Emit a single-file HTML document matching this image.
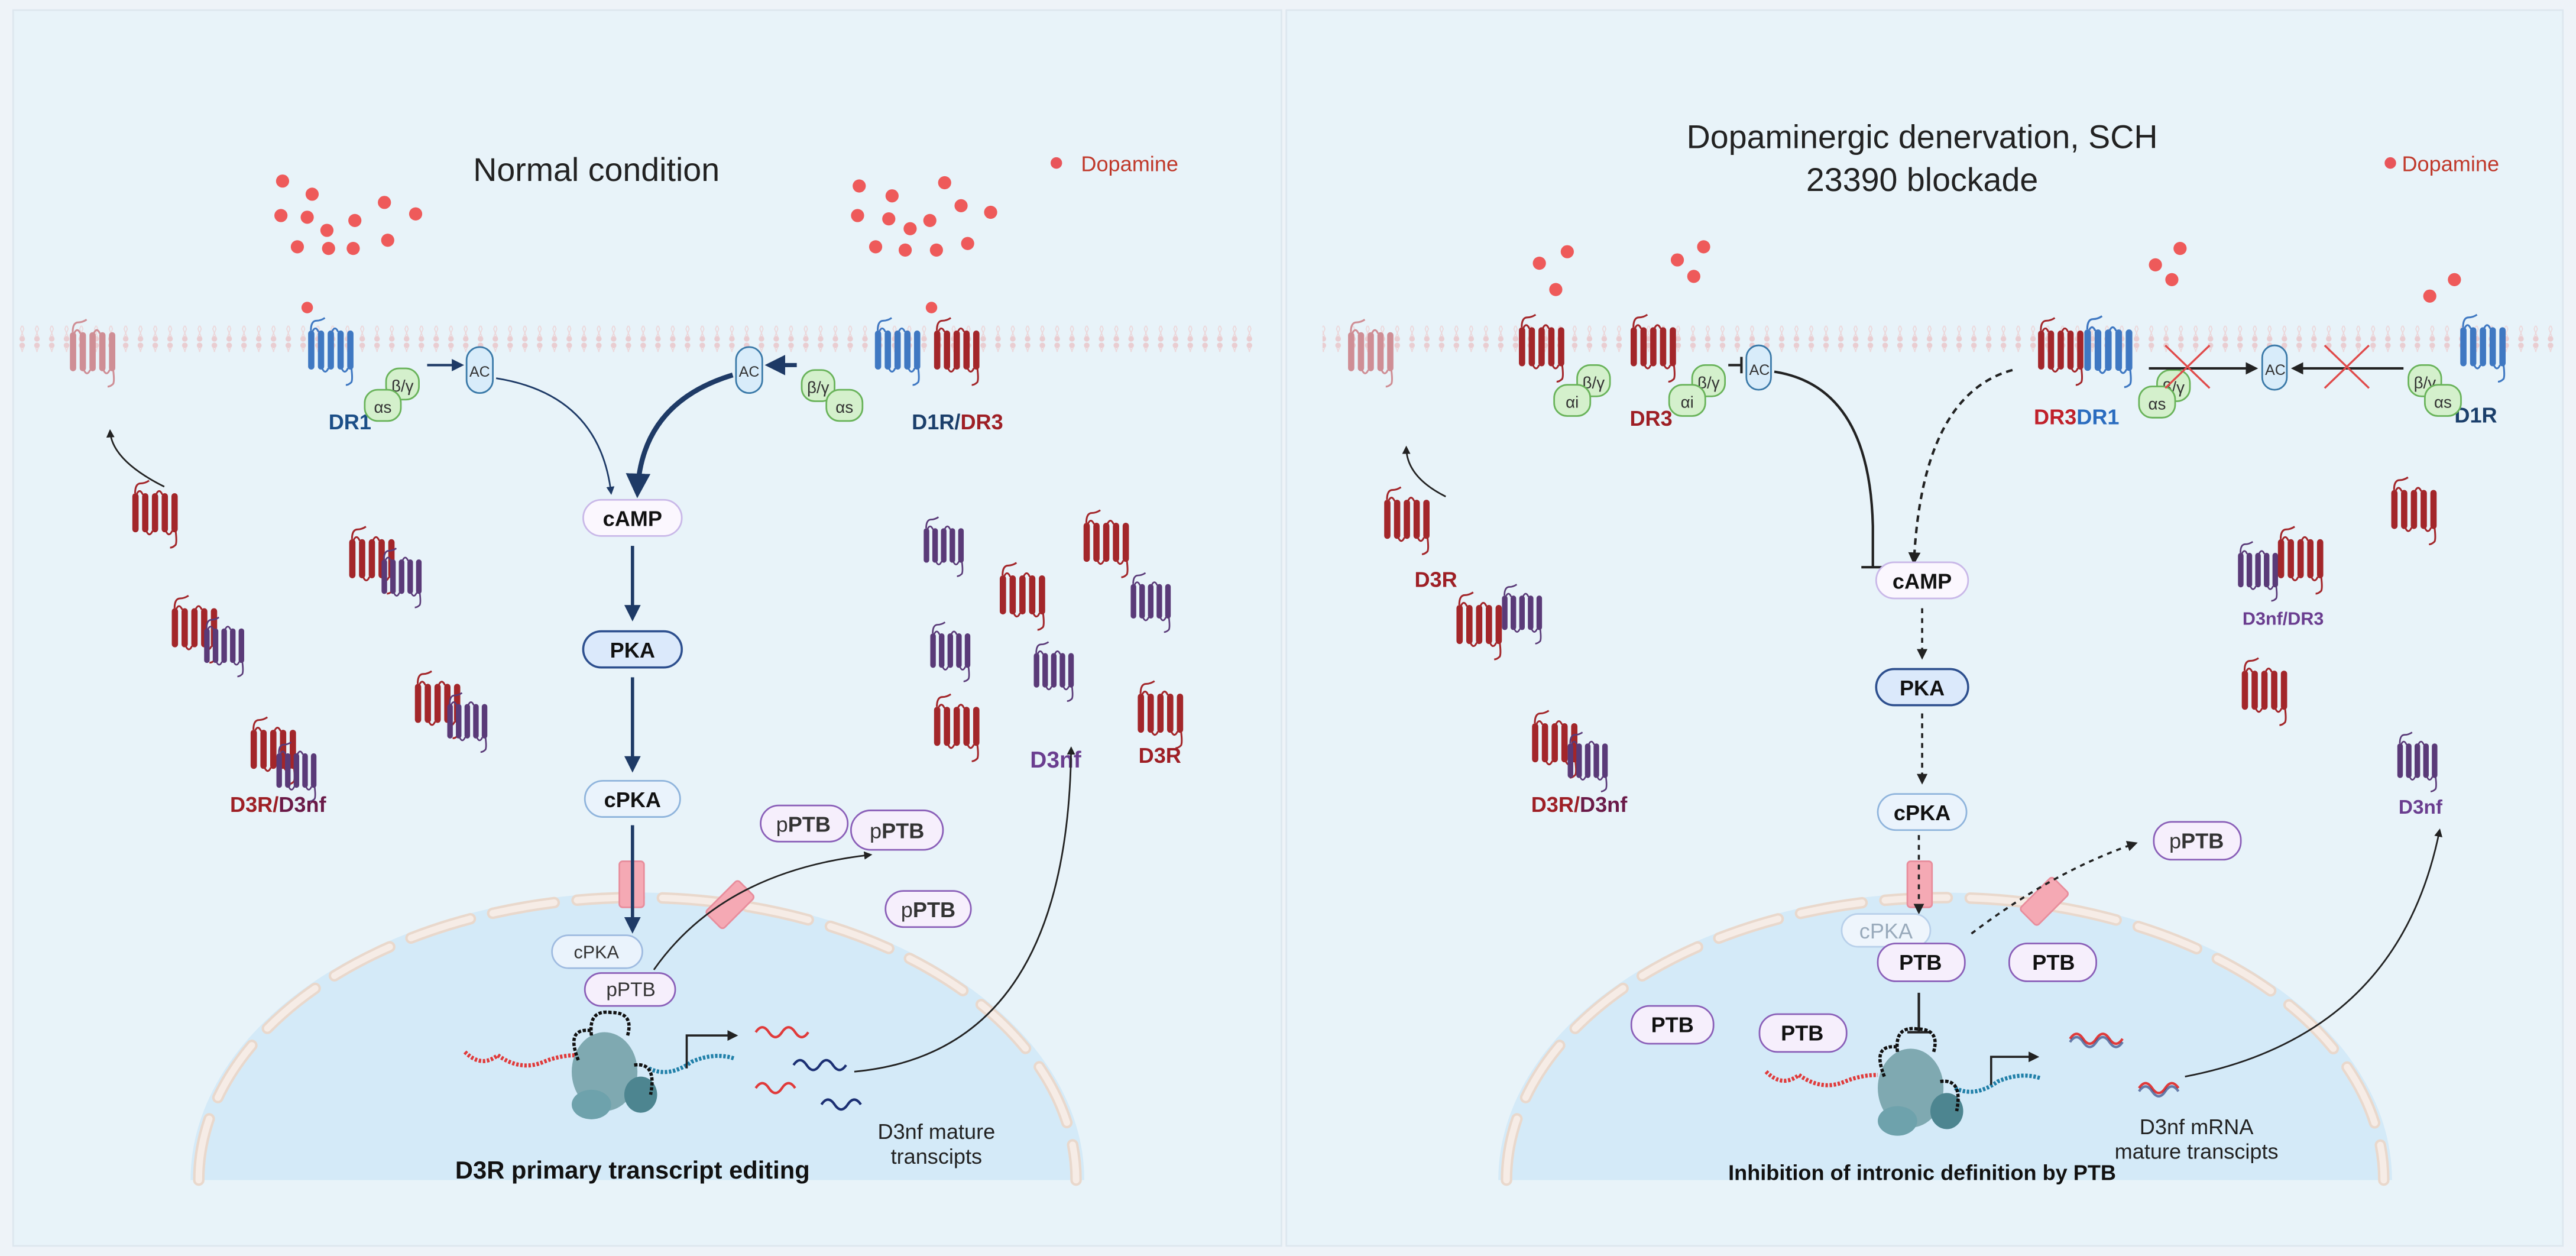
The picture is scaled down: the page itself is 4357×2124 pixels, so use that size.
<!DOCTYPE html>
<html><head><meta charset="utf-8"><style>
html,body{margin:0;padding:0;background:#eef3f8}
svg{display:block}
text{font-family:"Liberation Sans",Arial,sans-serif}
</style></head><body>
<svg width="4357" height="2124" viewBox="0 0 1568 764" xmlns="http://www.w3.org/2000/svg">
<defs>
<symbol id="r" viewBox="0 0 40 50" overflow="visible">
<path d="M5 12 q0-7 4-7 q3 0 6-2" fill="none" stroke="currentColor" stroke-width="1.3"/>
<g fill="currentColor">
<rect x="3" y="12" width="4.5" height="28" rx="2.2"/><rect x="10" y="12" width="4.5" height="28" rx="2.2"/>
<rect x="17" y="12" width="4.5" height="28" rx="2.2"/><rect x="24" y="12" width="4.5" height="28" rx="2.2"/>
<rect x="31" y="12" width="4.5" height="28" rx="2.2"/></g>
<path d="M6 13 q2.2-5 4.5 0 M20 13 q2.2-5 4.5 0 M13 39 q2.2 5 4.5 0 M27 39 q2.2 5 4.5 0 M34 39 q1 8 0 10 q-2 2 -4 2" fill="none" stroke="currentColor" stroke-width="1.3"/>
</symbol>
<marker id="a" viewBox="0 0 10 10" refX="8" refY="5" markerWidth="5" markerHeight="5" orient="auto"><path d="M0 0L10 5L0 10z" fill="#1e3a66"/></marker>
<marker id="k" viewBox="0 0 10 10" refX="8" refY="5" markerWidth="5" markerHeight="5" orient="auto"><path d="M0 0L10 5L0 10z" fill="#222"/></marker>
<pattern id="mem" width="9" height="16" patternUnits="userSpaceOnUse">
<circle cx="4.5" cy="2" r="1.7" fill="#e9cdd1"/><circle cx="4.5" cy="14" r="1.7" fill="#e9cdd1"/>
<path d="M3.5 3 L5.5 8 L3.5 13 M5.5 3 L3.5 8 L5.5 13" stroke="#ecd6d9" stroke-width="0.6" fill="none"/>
</pattern>
</defs>
<rect width="1568" height="764" fill="#eef3f8"/>
<rect x="8" y="6" width="772" height="752" fill="#e8f3f9" stroke="#dde7ef"/>
<rect x="783" y="6" width="777" height="752" fill="#e8f3f9" stroke="#dde7ef"/>

<rect x="10" y="198" width="757" height="16" fill="url(#mem)"/>
<rect x="805" y="198" width="750" height="16" fill="url(#mem)"/>

<path d="M116 718 A272 175 0 0 1 660 718 Z" fill="#d4eaf8"/>
<path d="M121 718 A267 172 0 0 1 655 718" fill="none" stroke="#e9d8cc" stroke-width="7" stroke-dasharray="38 14" stroke-linecap="round"/>
<path d="M121 718 A267 172 0 0 1 655 718" fill="none" stroke="#f6ece6" stroke-width="4" stroke-dasharray="38 14" stroke-linecap="round"/>
<path d="M912 718 A272 175 0 0 1 1456 718 Z" fill="#d4eaf8"/>
<path d="M917 718 A267 172 0 0 1 1451 718" fill="none" stroke="#e9d8cc" stroke-width="7" stroke-dasharray="38 14" stroke-linecap="round"/>
<path d="M917 718 A267 172 0 0 1 1451 718" fill="none" stroke="#f6ece6" stroke-width="4" stroke-dasharray="38 14" stroke-linecap="round"/>

<text x="363" y="110" font-size="20" text-anchor="middle" fill="#222">Normal condition</text>
<text x="1170" y="90" font-size="20" text-anchor="middle" fill="#222">Dopaminergic denervation, SCH</text>
<text x="1170" y="116" font-size="20" text-anchor="middle" fill="#222">23390 blockade</text>
<circle cx="643" cy="99" r="3.5" fill="#e8555a"/><text x="658" y="104" font-size="13" fill="#c0392b">Dopamine</text>
<circle cx="1455" cy="99" r="3.5" fill="#e8555a"/><text x="1462" y="104" font-size="13" fill="#c0392b">Dopamine</text>

<g fill="#ee5a5a">
<circle cx="172" cy="110" r="4"/><circle cx="190" cy="118" r="4"/><circle cx="171" cy="131" r="4"/><circle cx="187" cy="132" r="4"/><circle cx="199" cy="140" r="4"/><circle cx="216" cy="134" r="4"/><circle cx="234" cy="123" r="4"/><circle cx="253" cy="130" r="4"/><circle cx="236" cy="146" r="4"/><circle cx="200" cy="151" r="4"/><circle cx="215" cy="151" r="4"/><circle cx="181" cy="150" r="4"/>
<circle cx="523" cy="113" r="4"/><circle cx="543" cy="119" r="4"/><circle cx="522" cy="131" r="4"/><circle cx="541" cy="133" r="4"/><circle cx="554" cy="139" r="4"/><circle cx="566" cy="134" r="4"/><circle cx="585" cy="125" r="4"/><circle cx="603" cy="129" r="4"/><circle cx="589" cy="148" r="4"/><circle cx="551" cy="152" r="4"/><circle cx="570" cy="152" r="4"/><circle cx="533" cy="150" r="4"/><circle cx="575" cy="111" r="4"/>
<circle cx="187" cy="187" r="3.5"/><circle cx="567" cy="187" r="3.5"/>
<circle cx="937" cy="160" r="4"/><circle cx="954" cy="153" r="4"/><circle cx="947" cy="176" r="4"/>
<circle cx="1021" cy="158" r="4"/><circle cx="1037" cy="150" r="4"/><circle cx="1031" cy="168" r="4"/>
<circle cx="1312" cy="161" r="4"/><circle cx="1327" cy="151" r="4"/><circle cx="1322" cy="170" r="4"/>
<circle cx="1479" cy="180" r="4"/><circle cx="1494" cy="170" r="4"/>
</g>

<use href="#r" x="40" y="190" width="34" height="46" color="#cf8e95"/>
<use href="#r" x="185" y="188" width="34" height="48" color="#3f78c2"/>
<use href="#r" x="530" y="188" width="34" height="48" color="#3f78c2"/>
<use href="#r" x="566" y="188" width="34" height="48" color="#a3262a"/>
<text x="200" y="261" font-size="13" font-weight="bold" fill="#1b4e87">DR1</text>
<text x="555" y="261" font-size="13" font-weight="bold"><tspan fill="#1b3f6b">D1R/</tspan><tspan fill="#9e1f25">DR3</tspan></text>
<g font-size="10" text-anchor="middle" fill="#333">
<rect x="235" y="224" width="20" height="19" rx="8" fill="#d4f0cc" stroke="#69b35a"/><text x="245" y="238">β/γ</text>
<rect x="222" y="237" width="22" height="19" rx="8" fill="#d4f0cc" stroke="#69b35a"/><text x="233" y="251">αs</text>
<rect x="284" y="211" width="16" height="28" rx="8" fill="#d8ecfa" stroke="#3a79a8"/><text x="292" y="229" font-size="9">AC</text>
<rect x="448" y="211" width="16" height="28" rx="8" fill="#d8ecfa" stroke="#3a79a8"/><text x="456" y="229" font-size="9">AC</text>
<rect x="488" y="225" width="20" height="19" rx="8" fill="#d4f0cc" stroke="#69b35a"/><text x="498" y="239">β/γ</text>
<rect x="503" y="237" width="22" height="19" rx="8" fill="#d4f0cc" stroke="#69b35a"/><text x="514" y="251">αs</text>
</g>
<path d="M260 222 L281 222" stroke="#1e3a66" stroke-width="1.5" marker-end="url(#a)"/>
<path d="M485 222 L468 222" stroke="#1e3a66" stroke-width="2.5" marker-end="url(#a)"/>
<path d="M302 230 Q365 240 372 300" stroke="#1e3a66" stroke-width="1" fill="none" marker-end="url(#a)"/>
<path d="M446 228 Q390 245 388 300" stroke="#1e3a66" stroke-width="3" fill="none" marker-end="url(#a)"/>
<path d="M100 296 Q68 280 67 262" stroke="#222" stroke-width="1" fill="none" marker-end="url(#k)"/>

<g>
<use href="#r" x="78" y="288" width="34" height="46" color="#a3262a"/>
<use href="#r" x="210" y="316" width="34" height="46" color="#a3262a"/><use href="#r" x="230" y="328" width="30" height="44" color="#5a3a78"/>
<use href="#r" x="102" y="358" width="34" height="46" color="#a3262a"/><use href="#r" x="122" y="370" width="30" height="44" color="#5a3a78"/>
<use href="#r" x="250" y="404" width="34" height="46" color="#a3262a"/><use href="#r" x="270" y="416" width="30" height="44" color="#5a3a78"/>
<use href="#r" x="150" y="432" width="34" height="46" color="#a3262a"/><use href="#r" x="166" y="446" width="30" height="44" color="#5a3a78"/>
</g>
<text x="140" y="494" font-size="13" font-weight="bold"><tspan fill="#9e1f25">D3R/</tspan><tspan fill="#6a1a48">D3nf</tspan></text>
<g>
<use href="#r" x="560" y="308" width="30" height="46" color="#5a3a78"/>
<use href="#r" x="657" y="306" width="34" height="46" color="#a3262a"/>
<use href="#r" x="606" y="338" width="34" height="46" color="#a3262a"/>
<use href="#r" x="686" y="342" width="30" height="46" color="#5a3a78"/>
<use href="#r" x="564" y="372" width="30" height="46" color="#5a3a78"/>
<use href="#r" x="627" y="384" width="30" height="46" color="#5a3a78"/>
<use href="#r" x="566" y="418" width="34" height="46" color="#a3262a"/>
<use href="#r" x="690" y="410" width="34" height="46" color="#a3262a"/>
</g>
<text x="627" y="467" font-size="14" font-weight="bold" fill="#6a3d8f">D3nf</text>
<text x="693" y="464" font-size="13" font-weight="bold" fill="#9e1f25">D3R</text>

<g font-weight="bold" text-anchor="middle" font-size="13" fill="#111">
<rect x="355" y="304" width="60" height="22" rx="11" fill="#fbf7fe" stroke="#c9b8e8"/><text x="385" y="320">cAMP</text>
<rect x="355" y="384" width="60" height="22" rx="11" fill="#dbe9fb" stroke="#2d4f8e" stroke-width="1.3"/><text x="385" y="400">PKA</text>
<rect x="356" y="475" width="58" height="22" rx="11" fill="#eaf3fc" stroke="#8fb4dc"/><text x="385" y="491">cPKA</text>
</g>
<path d="M385 332 V376" stroke="#1e3a66" stroke-width="2" marker-end="url(#a)"/>
<path d="M385 412 V468" stroke="#1e3a66" stroke-width="2" marker-end="url(#a)"/>
<rect x="377" y="524" width="15" height="28" rx="2" fill="#f5a9b4" stroke="#e88d9c"/>
<rect x="437" y="536" width="15" height="28" rx="2" fill="#f5a9b4" stroke="#e88d9c" transform="rotate(45 444 550)"/>
<path d="M385 502 V566" stroke="#1e3a66" stroke-width="2" marker-end="url(#a)"/>
<g text-anchor="middle" font-size="11" fill="#333">
<rect x="336" y="569" width="55" height="20" rx="10" fill="#eaf3fc" stroke="#9fbbe0"/><text x="363" y="583">cPKA</text>
<rect x="356" y="592" width="55" height="20" rx="10" fill="#f6effc" stroke="#8a5fb8"/><text x="384" y="606" font-size="12">pPTB</text>
</g>
<path d="M398 590 Q440 530 530 520" stroke="#222" stroke-width="1" fill="none" marker-end="url(#k)"/>
<g text-anchor="middle" font-size="13" fill="#333">
<rect x="463" y="490" width="53" height="22" rx="11" fill="#f6effc" stroke="#8a5fb8"/><text x="489" y="506">p<tspan font-weight="bold">PTB</tspan></text>
<rect x="518" y="493" width="56" height="24" rx="12" fill="#f6effc" stroke="#8a5fb8"/><text x="546" y="510">p<tspan font-weight="bold">PTB</tspan></text>
<rect x="539" y="542" width="52" height="22" rx="11" fill="#f6effc" stroke="#8a5fb8"/><text x="565" y="558">p<tspan font-weight="bold">PTB</tspan></text>
</g>
<g>
<path d="M283 640 q10 10 20 2 q14 10 28 4 q10 -4 20 -4" stroke="#e03a3a" stroke-width="2.5" fill="none" stroke-dasharray="1.5 1"/>
<path d="M395 650 q12 6 26 -4 q14 -6 26 -2" stroke="#1f7fa8" stroke-width="2.5" fill="none" stroke-dasharray="1.5 1"/>
<ellipse cx="368" cy="652" rx="20" ry="24" fill="#7fa9b1"/>
<ellipse cx="360" cy="672" rx="12" ry="9" fill="#6ea2ac"/><ellipse cx="390" cy="666" rx="10" ry="11" fill="#4d8590"/>
<path d="M352 645 q-8 -20 8 -18 M360 630 q-2 -16 12 -14 q14 0 10 14 M386 648 q14 -2 10 18" stroke="#111" stroke-width="2" fill="none" stroke-dasharray="2 1"/>
</g>
<path d="M418 650 V630 H448" stroke="#222" stroke-width="1.3" fill="none" marker-end="url(#k)"/>
<g stroke-width="1.5" fill="none">
<path d="M460 628 q4 -6 8 0 q4 6 8 0 q4 -6 8 0 q4 6 8 0" stroke="#e03a3a"/>
<path d="M483 648 q4 -6 8 0 q4 6 8 0 q4 -6 8 0 q4 6 8 0" stroke="#1b2f73"/>
<path d="M460 662 q4 -6 8 0 q4 6 8 0 q4 -6 8 0" stroke="#e03a3a"/>
<path d="M500 672 q4 -6 8 0 q4 6 8 0 q4 -6 8 0" stroke="#1b2f73"/>
</g>
<path d="M520 652 Q650 640 652 455" stroke="#222" stroke-width="1" fill="none" marker-end="url(#k)"/>
<text x="385" y="717" font-size="15" font-weight="bold" text-anchor="middle" fill="#111">D3R primary transcript editing</text>
<text x="570" y="693" font-size="13" text-anchor="middle" fill="#222">D3nf mature</text>
<text x="570" y="708" font-size="13" text-anchor="middle" fill="#222">transcipts</text>

<use href="#r" x="818" y="190" width="34" height="46" color="#cf8e95"/>
<use href="#r" x="922" y="186" width="34" height="48" color="#a3262a"/>
<use href="#r" x="990" y="186" width="34" height="48" color="#a3262a"/>
<use href="#r" x="1238" y="188" width="34" height="48" color="#a3262a"/>
<use href="#r" x="1266" y="188" width="36" height="48" color="#3f78c2"/>
<use href="#r" x="1495" y="186" width="34" height="48" color="#3f78c2"/>
<text x="992" y="259" font-size="13" font-weight="bold" fill="#9e1f25">DR3</text>
<text x="1238" y="258" font-size="13" font-weight="bold"><tspan fill="#c0202a">DR3</tspan><tspan fill="#2a6cbf">DR1</tspan></text>
<text x="1494" y="257" font-size="13" font-weight="bold" fill="#1b3f6b">D1R</text>
<g font-size="10" text-anchor="middle" fill="#333">
<rect x="960" y="222" width="20" height="19" rx="8" fill="#d4f0cc" stroke="#69b35a"/><text x="970" y="236">β/γ</text>
<rect x="946" y="234" width="22" height="19" rx="8" fill="#d4f0cc" stroke="#69b35a"/><text x="957" y="248">αi</text>
<rect x="1030" y="222" width="20" height="19" rx="8" fill="#d4f0cc" stroke="#69b35a"/><text x="1040" y="236">β/γ</text>
<rect x="1016" y="234" width="22" height="19" rx="8" fill="#d4f0cc" stroke="#69b35a"/><text x="1027" y="248">αi</text>
<rect x="1063" y="210" width="15" height="27" rx="7.5" fill="#d8ecfa" stroke="#3a79a8"/><text x="1071" y="228" font-size="9">AC</text>
<rect x="1313" y="225" width="20" height="19" rx="8" fill="#d4f0cc" stroke="#69b35a"/><text x="1323" y="239">β/γ</text>
<rect x="1302" y="235" width="22" height="19" rx="8" fill="#d4f0cc" stroke="#69b35a"/><text x="1313" y="249">αs</text>
<rect x="1377" y="210" width="15" height="27" rx="7.5" fill="#d8ecfa" stroke="#3a79a8"/><text x="1385" y="228" font-size="9">AC</text>
<rect x="1466" y="222" width="20" height="19" rx="8" fill="#d4f0cc" stroke="#69b35a"/><text x="1476" y="236">β/γ</text>
<rect x="1476" y="234" width="22" height="19" rx="8" fill="#d4f0cc" stroke="#69b35a"/><text x="1487" y="248">αs</text>
</g>
<path d="M1052 222 H1060 M1060 217 V227" stroke="#222" stroke-width="1.5"/>
<path d="M1080 226 Q1138 235 1140 320 V345 M1133 345 H1147" stroke="#222" stroke-width="1.5" fill="none"/>
<path d="M1225 225 Q1170 240 1165 342" stroke="#222" stroke-width="1.5" fill="none" stroke-dasharray="4 3" marker-end="url(#k)"/>
<path d="M1308 224 H1373" stroke="#222" stroke-width="1.5" marker-end="url(#k)"/>
<path d="M1463 224 H1396" stroke="#222" stroke-width="1.5" marker-end="url(#k)"/>
<path d="M1318 210 L1345 236 M1345 210 L1318 236 M1415 210 L1442 236 M1442 210 L1415 236" stroke="#e04a4a" stroke-width="1.2"/>
<path d="M880 302 Q856 290 856 272" stroke="#222" stroke-width="1" fill="none" marker-end="url(#k)"/>

<use href="#r" x="840" y="292" width="34" height="46" color="#a3262a"/>
<text x="861" y="357" font-size="13" font-weight="bold" fill="#9e1f25">D3R</text>
<use href="#r" x="884" y="356" width="34" height="46" color="#a3262a"/><use href="#r" x="912" y="350" width="30" height="44" color="#5a3a78"/>
<use href="#r" x="930" y="428" width="34" height="46" color="#a3262a"/><use href="#r" x="952" y="440" width="30" height="44" color="#5a3a78"/>
<text x="932" y="494" font-size="13" font-weight="bold"><tspan fill="#9e1f25">D3R/</tspan><tspan fill="#6a1a48">D3nf</tspan></text>
<use href="#r" x="1453" y="286" width="34" height="46" color="#a3262a"/>
<use href="#r" x="1360" y="323" width="30" height="46" color="#5a3a78"/><use href="#r" x="1384" y="316" width="34" height="46" color="#a3262a"/>
<text x="1365" y="380" font-size="11" font-weight="bold" fill="#6a3d8f">D3nf/DR3</text>
<use href="#r" x="1362" y="396" width="34" height="46" color="#a3262a"/>
<use href="#r" x="1457" y="439" width="30" height="46" color="#5a3a78"/>
<text x="1460" y="495" font-size="12" font-weight="bold" fill="#6a3d8f">D3nf</text>

<g font-weight="bold" text-anchor="middle" font-size="13" fill="#111">
<rect x="1142" y="342" width="56" height="22" rx="11" fill="#fbf7fe" stroke="#c9b8e8"/><text x="1170" y="358">cAMP</text>
<rect x="1142" y="407" width="56" height="22" rx="11" fill="#dbe9fb" stroke="#2d4f8e" stroke-width="1.3"/><text x="1170" y="423">PKA</text>
<rect x="1143" y="483" width="54" height="22" rx="11" fill="#eaf3fc" stroke="#8fb4dc"/><text x="1170" y="499">cPKA</text>
</g>
<path d="M1170 370 V400" stroke="#222" stroke-width="1.3" stroke-dasharray="3 3" marker-end="url(#k)"/>
<path d="M1170 434 V476" stroke="#222" stroke-width="1.3" stroke-dasharray="3 3" marker-end="url(#k)"/>
<rect x="1161" y="524" width="15" height="28" rx="2" fill="#f5a9b4" stroke="#e88d9c"/>
<rect x="1237" y="534" width="15" height="28" rx="2" fill="#f5a9b4" stroke="#e88d9c" transform="rotate(45 1244 548)"/>
<path d="M1168 508 V555" stroke="#222" stroke-width="1.3" stroke-dasharray="3 3" marker-end="url(#k)"/>
<path d="M1200 568 Q1250 530 1300 513" stroke="#222" stroke-width="1.3" stroke-dasharray="3 3" fill="none" marker-end="url(#k)"/>
<g text-anchor="middle" font-size="13">
<rect x="1121" y="556" width="54" height="20" rx="10" fill="#eef5fc" stroke="#b8d0ea"/><text x="1148" y="571" fill="#9ab">cPKA</text>
<g fill="#111" font-weight="bold">
<rect x="1143" y="574" width="53" height="23" rx="11" fill="#f6effc" stroke="#8a5fb8"/><text x="1169" y="590">PTB</text>
<rect x="1223" y="574" width="53" height="23" rx="11" fill="#f6effc" stroke="#8a5fb8"/><text x="1250" y="590">PTB</text>
<rect x="993" y="612" width="50" height="23" rx="11" fill="#f6effc" stroke="#8a5fb8"/><text x="1018" y="628">PTB</text>
<rect x="1071" y="617" width="53" height="23" rx="11" fill="#f6effc" stroke="#8a5fb8"/><text x="1097" y="633">PTB</text>
</g>
<rect x="1311" y="500" width="53" height="23" rx="11" fill="#f6effc" stroke="#8a5fb8"/><text x="1337" y="516" fill="#333">p<tspan font-weight="bold">PTB</tspan></text>
</g>
<path d="M1168 604 V628 M1161 628 H1175" stroke="#222" stroke-width="1.5"/>
<g>
<path d="M1075 652 q10 10 20 2 q14 10 28 4 q10 -4 20 -4" stroke="#e03a3a" stroke-width="2.5" fill="none" stroke-dasharray="1.5 1"/>
<path d="M1190 662 q12 6 26 -4 q14 -6 26 -2" stroke="#1f7fa8" stroke-width="2.5" fill="none" stroke-dasharray="1.5 1"/>
<ellipse cx="1163" cy="662" rx="20" ry="24" fill="#7fa9b1"/>
<ellipse cx="1155" cy="682" rx="12" ry="9" fill="#6ea2ac"/><ellipse cx="1185" cy="676" rx="10" ry="11" fill="#4d8590"/>
<path d="M1147 655 q-8 -20 8 -18 M1155 640 q-2 -16 12 -14 q14 0 10 14 M1181 658 q14 -2 10 18" stroke="#111" stroke-width="2" fill="none" stroke-dasharray="2 1"/>
</g>
<path d="M1212 660 V643 H1240" stroke="#222" stroke-width="1.3" fill="none" marker-end="url(#k)"/>
<g stroke-width="1.5" fill="none">
<path d="M1260 632 q4 -6 8 0 q4 6 8 0 q4 -6 8 0 q4 6 8 0" stroke="#e03a3a"/>
<path d="M1260 634 q4 -6 8 0 q4 6 8 0 q4 -6 8 0 q4 6 8 0" stroke="#1b2f73" opacity="0.6"/>
<path d="M1302 662 q4 -6 8 0 q4 6 8 0 q4 -6 8 0" stroke="#e03a3a"/>
<path d="M1302 664 q4 -6 8 0 q4 6 8 0 q4 -6 8 0" stroke="#1b2f73" opacity="0.6"/>
</g>
<path d="M1330 655 Q1460 630 1485 505" stroke="#222" stroke-width="1" fill="none" marker-end="url(#k)"/>
<text x="1170" y="718" font-size="13" font-weight="bold" text-anchor="middle" fill="#111">Inhibition of intronic definition by PTB</text>
<text x="1337" y="690" font-size="13" text-anchor="middle" fill="#222">D3nf mRNA</text>
<text x="1337" y="705" font-size="13" text-anchor="middle" fill="#222">mature transcipts</text>
</svg>
</body></html>
